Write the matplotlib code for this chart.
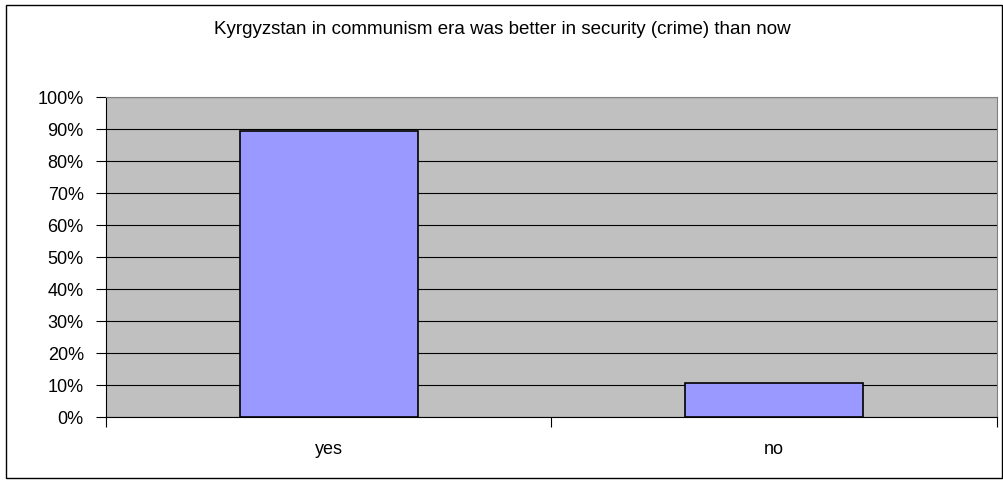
import matplotlib.pyplot as plt
import matplotlib.patches as mpatches
from matplotlib.ticker import FuncFormatter, MultipleLocator

plt.rcParams['font.family'] = ['Liberation Sans', 'DejaVu Sans']

# data
categories = ['yes', 'no']
shares = [89.5, 10.5]
title = "Kyrgyzstan in communism era was better in security (crime) than now"

fig = plt.figure(figsize=(10.04, 4.83), dpi=100)
ax = fig.add_axes([106 / 1004, 66 / 483, 891 / 1004, 320 / 483])

# outer chart frame
fig.patches.append(mpatches.Rectangle((6 / 1004, 5 / 483), 996 / 1004, 473 / 483,
                                      transform=fig.transFigure, fill=False,
                                      edgecolor='black', linewidth=1.0))

ax.set_facecolor('#c0c0c0')
x = list(range(len(categories)))
ax.bar(x, shares, width=0.4, color='#9999ff', edgecolor='black', linewidth=1.2, zorder=3)

ax.set_xlim(-0.5, len(categories) - 0.5)
ax.set_ylim(0, 100)
ax.yaxis.set_major_locator(MultipleLocator(10))
ax.yaxis.set_major_formatter(FuncFormatter(lambda v, p: f"{v:.0f}%"))
ax.grid(axis='y', color='black', linewidth=0.8, zorder=1)

# category labels between boundary ticks
ax.set_xticks([-0.5, 0.5, 1.5])
ax.set_xticklabels([])
ax.set_xticks(x, minor=True)
ax.set_xticklabels(categories, minor=True)
ax.tick_params(axis='x', which='major', length=7, direction='out', width=0.8)
ax.tick_params(axis='x', which='minor', length=0, pad=17, labelsize=13)
ax.tick_params(axis='y', length=7, width=0.8, labelsize=13, pad=9)

for side in ['top', 'right']:
    ax.spines[side].set_color('#808080')
ax.spines['left'].set_color('black')
ax.spines['bottom'].set_color('black')

fig.text(0.5, 1 - 29 / 483, title, ha='center', va='center', fontsize=13.5)

fig.savefig('out.png', dpi=100)
